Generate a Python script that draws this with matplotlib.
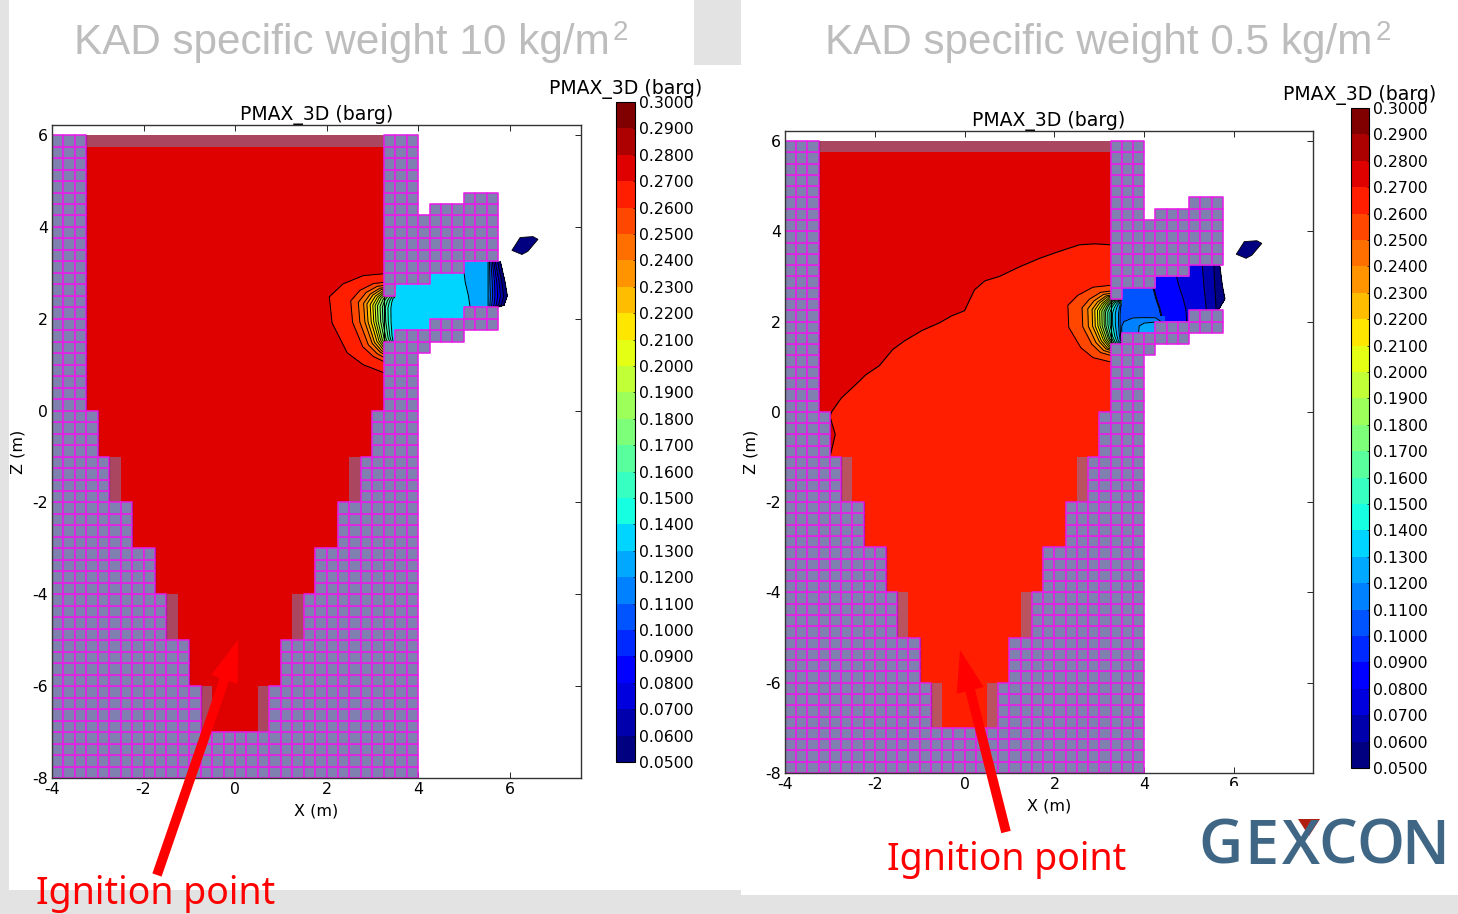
import numpy as np
import matplotlib
matplotlib.use('Agg')
import matplotlib.pyplot as plt
from matplotlib.collections import PolyCollection
from matplotlib.colors import ListedColormap, BoundaryNorm
from matplotlib.patches import FancyArrowPatch, Polygon, Rectangle
from matplotlib.path import Path

plt.rcParams['axes.unicode_minus'] = False

levels = np.round(np.arange(0.05, 0.305, 0.01), 2)

# fluid outline, right hand side, mirrored for the left
wall_x = [0.5, 0.75, 0.75, 1.0, 1.0, 1.5, 1.5, 1.75, 1.75, 2.25, 2.25, 2.75, 2.75, 3.0, 3.0, 3.25, 3.25]
wall_z = [-7, -7, -6, -6, -5, -5, -4, -4, -3, -3, -2, -2, -1, -1, 0, 0, 6]

solid_x = [-4, 4, 4, 4.25, 4.25, 5, 5, 5.75, 5.75, 5, 5, 4.25, 4.25, 4, 4, -4]
solid_z = [-8, -8, 1.25, 1.25, 1.5, 1.5, 1.75, 1.75, 4.75, 4.75, 4.5, 4.5, 4.25, 4.25, 6, 6]
vent_x = [3.25, 3.5, 3.5, 4.25, 4.25, 5, 5, 5.75, 5.75, 5, 5, 4.25, 4.25, 3.5, 3.5, 3.25]
vent_z = [1.5, 1.5, 1.75, 1.75, 2, 2, 2.25, 2.25, 3.25, 3.25, 3, 3, 2.75, 2.75, 2.5, 2.5]
# same channel plus the free jet past the outlet
jet_x = [3.25, 3.5, 3.5, 4.25, 4.25, 5, 5, 5.75, 6.2, 6.2, 5.75, 5, 5, 4.25, 4.25, 3.5, 3.5, 3.25]
jet_z = [1.5, 1.5, 1.75, 1.75, 2, 2, 2.25, 2.25, 2.18, 3.3, 3.25, 3.25, 3, 3, 2.75, 2.75, 2.5, 2.5]

island_x = [6.05, 6.23, 6.51, 6.62, 6.4, 6.27]
island_z = [3.49, 3.77, 3.79, 3.73, 3.47, 3.4]

# pressure around the vent, fraction of the outer contour -> barg
left_frac = [0.066, 0.11, 0.15, 0.195, 0.23, 0.27, 0.305, 0.34, 0.38, 0.43, 0.48, 0.56, 0.675, 1.0, 1.01]
left_p = [0.14, 0.15, 0.16, 0.17, 0.18, 0.19, 0.20, 0.21, 0.22, 0.23, 0.24, 0.25, 0.26, 0.27, 0.2705]
left_shape_x = [0, -0.26, -0.70, -1.14, -1.44, -1.38, -1.05, -0.70, -0.26, 0]
left_shape_z = [1.0, 1.0, 0.96, 0.78, 0.5, -0.07, -0.72, -0.98, -1.15, -1.15]

right_frac = [0.03, 0.06, 0.12, 0.17, 0.22, 0.26, 0.30, 0.33, 0.37, 0.41, 0.45, 0.50, 0.55, 0.63, 0.736, 1.0, 1.01]
right_p = [0.11, 0.12, 0.13, 0.14, 0.15, 0.16, 0.17, 0.18, 0.19, 0.20, 0.21, 0.22, 0.23, 0.24, 0.25, 0.26, 0.2605]
right_shape_x = [0, -0.27, -0.64, -0.98, -1.2, -1.18, -0.91, -0.64, -0.27, 0]
right_shape_z = [0.82, 0.82, 0.78, 0.6, 0.38, -0.11, -0.56, -0.78, -0.87, -0.87]

# vent channel, x position of each pressure level on each row
chan_z = [1.5, 2.25, 2.3, 2.5, 2.8, 3.28]
left_chan_p = [0.1399, 0.13, 0.12, 0.11, 0.10, 0.09, 0.08, 0.07, 0.06, 0.05]
left_chan_x = [[3.25, 5.17, 5.50, 5.53, 5.56, 5.59, 5.62, 5.65, 5.68, 5.72],
               [3.25, 5.14, 5.53, 5.56, 5.59, 5.62, 5.65, 5.68, 5.72, 5.75],
               [3.25, 5.13, 5.53, 5.57, 5.61, 5.66, 5.71, 5.76, 5.82, 5.88],
               [3.25, 5.10, 5.53, 5.58, 5.63, 5.68, 5.74, 5.80, 5.87, 5.95],
               [3.25, 5.03, 5.53, 5.57, 5.62, 5.67, 5.72, 5.77, 5.83, 5.90],
               [3.25, 4.97, 5.53, 5.56, 5.59, 5.62, 5.65, 5.68, 5.73, 5.79]]
right_chan_p = [0.1099, 0.10, 0.09, 0.08, 0.07, 0.06, 0.05]
right_chan_x = [[3.25, 4.52, 4.54, 4.98, 5.40, 5.55, 5.60],
                [3.25, 4.34, 4.36, 4.93, 5.38, 5.60, 5.64],
                [3.25, 4.33, 4.35, 4.92, 5.38, 5.60, 5.68],
                [3.25, 4.26, 4.28, 4.87, 5.36, 5.59, 5.80],
                [3.25, 4.18, 4.20, 4.77, 5.33, 5.57, 5.74],
                [3.25, 4.05, 4.07, 4.65, 5.29, 5.55, 5.68]]

lobe_x = [3.5, 3.75, 4.0, 4.25, 4.45]
lobe_z = [1.75, 1.9, 2.0, 2.12]
lobe_p = [[0.11, 0.115, 0.125, 0.128, 0.105],
          [0.11, 0.115, 0.124, 0.127, 0.105],
          [0.109, 0.114, 0.118, 0.119, 0.105],
          [0.105, 0.108, 0.107, 0.106, 0.105]]

# 0.27 front in the 0.5 kg/m2 case
front_x = [3.25, 2.9, 2.56, 2.1, 1.67, 1.2, 0.78, 0.45, 0.22, 0.1, 0, -0.3, -0.56, -0.95, -1.34, -1.6, -1.9, -2.2, -2.45, -2.75, -2.96, -3.0, -2.88, -2.95, -3.0]
front_z = [3.7, 3.72, 3.7, 3.55, 3.4, 3.2, 3.0, 2.9, 2.7, 2.45, 2.24, 2.12, 1.97, 1.8, 1.57, 1.38, 1.02, 0.82, 0.58, 0.3, 0.0, -0.1, -0.5, -0.8, -1.0]

logo_letters = list('GEXCON')

W, H = 1458, 914
fig = plt.figure(figsize=(W / 100, H / 100), dpi=100, facecolor='#e3e3e3')


def px_axes(x0, y0, x1, y1, **kw):
    return fig.add_axes([x0 / W, 1 - y1 / H, (x1 - x0) / W, (y1 - y0) / H], **kw)


bg = fig.add_axes([0, 0, 1, 1], zorder=-1)
bg.set_xlim(0, W)
bg.set_ylim(H, 0)
bg.axis('off')
bg.add_patch(Rectangle((9, 0), 685, 65, color='white', lw=0))
bg.add_patch(Rectangle((9, 65), 1111, 825, color='white', lw=0))
bg.add_patch(Rectangle((741, 0), 717, 895, color='white', lw=0))

colors = plt.get_cmap('jet')(np.linspace(0, 1, len(levels) - 1))
cmap = ListedColormap(colors)
norm = BoundaryNorm(levels, len(levels) - 1)

fluid_x = [-v for v in wall_x[::-1]] + wall_x
fluid_z = wall_z[::-1] + wall_z

# blocked grid cells, 0.25 m
xedges = np.arange(-4, 5.76, 0.25)
zedges = np.arange(-8, 6.01, 0.25)
xc, zc = np.meshgrid(xedges[:-1] + 0.125, zedges[:-1] + 0.125)
pts = np.column_stack([xc.ravel(), zc.ravel()])
is_solid = Path(np.column_stack([solid_x, solid_z])).contains_points(pts)
is_solid &= ~Path(np.column_stack([fluid_x, fluid_z])).contains_points(pts)
is_solid &= ~Path(np.column_stack([vent_x, vent_z])).contains_points(pts)
cells = [[(x - 0.125, z - 0.125), (x + 0.125, z - 0.125), (x + 0.125, z + 0.125), (x - 0.125, z + 0.125)]
         for x, z in pts[is_solid]]


def draw_panel(box, xmax, bg_idx, frac, p, shape_x, shape_z, chan_p, chan_x, cbox, tx, ty, weight, sup_x):
    ax = px_axes(*box)
    fl = ax.fill(fluid_x, fluid_z, color=colors[bg_idx], lw=0, zorder=1)[0]

    # channel, clipped to the open vent
    jet = Polygon(np.column_stack([jet_x, jet_z]), transform=ax.transData, fc='none', lw=0)
    ax.add_patch(jet)
    X = np.array(chan_x)
    Z = np.tile(np.array(chan_z)[:, None], (1, X.shape[1]))
    P = np.tile(np.array(chan_p), (X.shape[0], 1))
    c1 = ax.contourf(X, Z, P, levels=levels, cmap=cmap, norm=norm, zorder=2)
    c2 = ax.contour(X, Z, P, levels=levels, colors='k', linewidths=0.7, zorder=2.1)
    c1.set_clip_path(jet)
    c2.set_clip_path(jet)

    # plume round the vent, inner contours close on the opening not on a point
    frac = np.array(frac)
    X = 3.5 + np.outer(frac, shape_x)
    Z = 1.98 + np.outer(0.45 + 0.55 * frac, shape_z)
    P = np.tile(np.array(p)[:, None], (1, len(shape_x)))
    cs = ax.contourf(X, Z, P, levels=levels, cmap=cmap, norm=norm, zorder=3)
    ax.contour(X, Z, P, levels=levels[:-1], colors='k', linewidths=0.7, zorder=3.1)

    ax.fill(island_x, island_z, color=colors[0], ec='k', lw=0.6, zorder=2)

    ax.add_collection(PolyCollection(cells, facecolors='#8080b0', edgecolors='#e61ee6',
                                     linewidths=1.15, zorder=5))

    # part blocked cells
    for x0, x1, z0, z1 in [(-2.75, -2.5, -2, -1), (2.5, 2.75, -2, -1), (-1.5, -1.25, -5, -4),
                           (1.25, 1.5, -5, -4), (-0.75, -0.5, -7, -6), (0.5, 0.75, -7, -6),
                           (-3.25, 3.25, 5.75, 6)]:
        ax.fill([x0, x1, x1, x0], [z0, z0, z1, z1], color='#8080b0', alpha=0.55, lw=0, zorder=4)

    ax.plot(fluid_x, fluid_z, color='k', lw=0.8, zorder=4.5)
    ax.set_xlim(-4, xmax)
    ax.set_ylim(-8, 6.22)
    ax.set_xticks([-4, -2, 0, 2, 4, 6])
    ax.set_yticks([-8, -6, -4, -2, 0, 2, 4, 6])
    ax.tick_params(direction='in', top=True, right=True, length=4, width=0.6, labelsize=11.3, pad=3)
    ax.set_axisbelow(False)
    ax.set_xlabel('X (m)', fontsize=11.5, labelpad=4.5)
    ax.set_ylabel('Z (m)', fontsize=11.5, labelpad=5)
    ax.set_title('PMAX_3D (barg)', fontsize=13.6, pad=3.5)
    for s in ax.spines.values():
        s.set_linewidth(1.0)
        s.set_color('#333333')
        s.set_zorder(6)

    cax = px_axes(*cbox)
    cb = fig.colorbar(cs, cax=cax, ticks=levels, format='%.4f')
    cb.ax.tick_params(labelsize=11.3, length=1.5, width=0.5, direction='in', pad=3)
    cb.outline.set_linewidth(0.8)
    ov.text((cbox[0] + cbox[2]) / 2, cbox[1] - 13, 'PMAX_3D (barg)', fontsize=13.6, ha='center', va='center')
    ov.text(tx, ty, 'KAD specific weight ' + weight + ' kg/m', color='#bdbdbd', fontsize=30.4,
            family='Liberation Sans', ha='left', va='baseline')
    ov.text(sup_x, ty - 14, '2', color='#bdbdbd', fontsize=20, family='Liberation Sans', ha='left', va='baseline')
    return ax, fl


ov = fig.add_axes([0, 0, 1, 1], zorder=10)
ov.set_xlim(0, W)
ov.set_ylim(H, 0)
ov.axis('off')
ov.patch.set_alpha(0)

draw_panel((52, 125, 581, 778), 7.56, 22, left_frac, left_p, left_shape_x, left_shape_z,
           left_chan_p, left_chan_x, (616, 102, 635, 762), 74, 54, '10', 613)
ax2, fl2 = draw_panel((785, 131, 1313, 773), 7.76, 21, right_frac, right_p, right_shape_x, right_shape_z,
                      right_chan_p, right_chan_x, (1351, 108, 1369, 768), 825, 54, '0.5', 1376)

# upper region of the right panel sits above the front
fr = ax2.fill(front_x + [-3.3, -3.3, 3.25], front_z + [-1.0, 6, 6], color=colors[22], lw=0, zorder=1.5)[0]
fr.set_clip_path(fl2)
ax2.plot(front_x, front_z, color='k', lw=0.8, zorder=1.6)
ax2.contourf(lobe_x, lobe_z, lobe_p, levels=levels, cmap=cmap, norm=norm, zorder=2.5)
ax2.contour(lobe_x, lobe_z, lobe_p, levels=levels, colors='k', linewidths=0.7, zorder=2.6)

# annotations
for tail, tip in [((157, 875), (238, 640)), ((1006, 832), (960, 650))]:
    ov.add_patch(FancyArrowPatch(tail, tip, arrowstyle='simple,tail_width=7,head_width=20,head_length=30',
                                 mutation_scale=1, color='#ff0000', lw=0, shrinkA=0, shrinkB=0))
ov.text(36, 904, 'Ignition point', color='#ff0000', fontsize=27, family='Noto Sans', ha='left', va='baseline')
ov.text(887, 870, 'Ignition point', color='#ff0000', fontsize=27, family='Noto Sans', ha='left', va='baseline')

ov.add_patch(Rectangle((1220, 786), 30, 14, color='white', lw=0))

# logo, letters set one by one to get its wide spacing
for letter, cx in zip(logo_letters, [1221, 1261, 1301, 1338, 1380, 1425]):
    ov.text(cx, 864, letter, color='#3f6785', fontsize=44, family='Open Sans', weight='semibold',
            ha='center', va='baseline')
ov.fill([1298, 1320, 1309], [819, 819, 836], color='#b01e10', lw=0)

fig.savefig('out.png', dpi=100, facecolor=fig.get_facecolor())
